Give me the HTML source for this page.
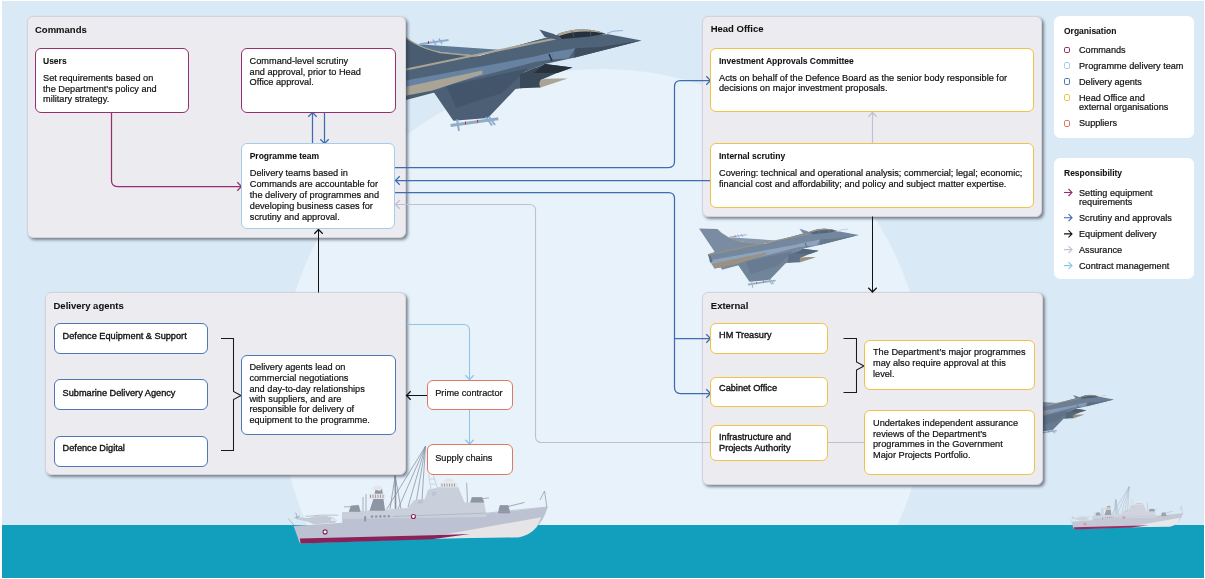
<!DOCTYPE html>
<html><head><meta charset="utf-8"><style>
html,body{margin:0;padding:0;background:#fff;}
#root{position:relative;width:1205px;height:579px;overflow:hidden;background:#fff;font-family:"Liberation Sans",sans-serif;will-change:transform;}
.b{position:absolute;box-sizing:border-box;}
.t{position:absolute;white-space:nowrap;line-height:11px;-webkit-text-stroke:0.2px currentColor;}
svg{position:absolute;left:0;top:0;}
</style></head><body><div id="root">
<svg width="1205" height="579" viewBox="0 0 1205 579">
<rect x="2" y="1" width="1202" height="577" fill="#d9e9f5"/>
<clipPath id="cl"><rect x="2" y="1" width="1202" height="577"/></clipPath>
<g clip-path="url(#cl)">
<circle cx="602.5" cy="392.5" r="323.5" fill="#e7f2fa"/>
<rect x="2" y="525" width="1202" height="53" fill="#129ebd"/>

<path d="M366.6,29.2 L397.9,30.1 Q412,46 440,52 L480,56 L534.9,40.7 L557.3,35 L557,60 L406,100 L393.7,69.7 Z" fill="#4a5c70"/>
<path d="M418.8,44.2 L498.9,49.7 L474.1,55.2 Q440,53 425.7,49 Z" fill="#5d7892"/>
<path d="M397.9,30.6 Q412,46 440,52.5 L480,56.5" stroke="#aaa497" stroke-width="1.3" fill="none"/>
<path d="M382,73.5 L393.7,69.7 L480,56 L534.9,40.7 L557.3,35 L608.4,34.3 L641.6,40.6 L573.9,57.8 L545,64 L520,74 L520,88 L432.6,91.5 L406.4,96 L393,98 L386,80 Z" fill="#4f6378"/>
<path d="M382,74.5 L534.9,42.8 L555.9,38.5" stroke="#aaa497" stroke-width="2" fill="none"/>
<path d="M384,84.5 L534.9,56.6 L551.8,52.3 L553.2,59.2 L534.9,62.1 L446.4,84.9 L388,90.5 Z" fill="#6783a1"/>
<path d="M388,90.5 L482.4,70.4 L482.4,73.9 L432.6,90.5 L393.5,98 Z" fill="#aaa497"/>
<path d="M382,74 L386.5,77 L390,86 L386,88 Z" fill="#3a4959"/>
<path d="M432.6,90.5 L520,74 L534.9,68 L545,75 L534.9,86.2 L515.5,89 L487.9,118 L453.4,120.8 Z" fill="#4c5f74"/>
<path d="M446.4,86.2 L528,68.3 L501.7,93.2 L456.1,107.7 Z" fill="#43556a"/>
<path d="M520,74.4 L545,64 L572.5,67.5 L557,73 L540.7,80 L540.7,87.5 L520,88.2 Z" fill="#3a4959"/>
<path d="M641.6,40.6 L600,47 L575.3,48.2 L573.9,57.8 Z" fill="#3f4f61"/>
<path d="M557.3,34.3 Q580.8,25 605.7,33.7 L590,36.5 L562,39 Z" fill="#27313c"/>
<path d="M557.3,34.3 Q580.8,24.5 605.7,33.7 Q580.8,28.5 559,36 Z" fill="#aaa497"/>
<path d="M572,31 L574,37 M590,30 L591,35.5" stroke="#4a5c70" stroke-width="0.8"/>
<path d="M539.3,29.5 L554.5,34.3 L561.4,40.6 L544.9,37.1 Z" fill="#4a5c70"/>
<path d="M551.8,52.3 L575.3,48.2 L568.4,58.5 L553.2,59.2 Z" fill="#6783a1"/>
<path d="M549,54 L552,61" stroke="#27313c" stroke-width="1.5"/>
<path d="M544.9,64 L572.5,67.5 L557.3,73 L533.8,73 Z" fill="#27313c"/>
<path d="M540.7,79.9 Q546,78 567.7,78.6 L540.7,87.5 Q538,84 540.7,79.9 Z" fill="#aaa497"/>
<path d="M607,33.5 L613,31.2 L623,30.5" stroke="#8dadd0" stroke-width="0.9" fill="none"/>
<path d="M450.6,125.6 L498.3,118.7" stroke="#8dadd0" stroke-width="3"/>
<path d="M451,125.5 L498,118.8" stroke="#aaa497" stroke-width="0.6"/>
<path d="M457,119.5 L459,131 M486,117 L492,125.5 M489,116.5 L495,125" stroke="#8dadd0" stroke-width="2"/>
<rect x="465" y="121.5" width="1" height="3" fill="#c2314f"/><rect x="477" y="119.8" width="1" height="3" fill="#c2314f"/>
<path d="M419.5,44.2 L448.5,40" stroke="#8dadd0" stroke-width="2"/>
<path d="M433,39.5 L436,45 M439,38.5 L442,44" stroke="#8dadd0" stroke-width="1.5"/>
<rect x="428" y="41" width="1" height="3" fill="#c2314f"/>
<g transform="translate(858.9,235.1) scale(0.5813953488372093) translate(-641.6,-40.6)">
<path d="M366.6,29.2 L397.9,30.1 Q412,46 440,52 L480,56 L534.9,40.7 L557.3,35 L557,60 L406,100 L393.7,69.7 Z" fill="#7a8ca2"/>
<path d="M418.8,44.2 L498.9,49.7 L474.1,55.2 Q440,53 425.7,49 Z" fill="#8498ae"/>
<path d="M397.9,30.6 Q412,46 440,52.5 L480,56.5" stroke="#9a9182" stroke-width="1.3" fill="none"/>
<path d="M382,73.5 L393.7,69.7 L480,56 L534.9,40.7 L557.3,35 L608.4,34.3 L641.6,40.6 L573.9,57.8 L545,64 L520,74 L520,88 L432.6,91.5 L406.4,96 L393,98 L386,80 Z" fill="#73879e"/>
<path d="M382,74.5 L534.9,42.8 L555.9,38.5" stroke="#9a9182" stroke-width="2" fill="none"/>
<path d="M384,84.5 L534.9,56.6 L551.8,52.3 L553.2,59.2 L534.9,62.1 L446.4,84.9 L388,90.5 Z" fill="#8fa4bc"/>
<path d="M388,90.5 L482.4,70.4 L482.4,73.9 L432.6,90.5 L393.5,98 Z" fill="#9a9182"/>
<path d="M382,74 L386.5,77 L390,86 L386,88 Z" fill="#5f7186"/>
<path d="M432.6,90.5 L520,74 L534.9,68 L545,75 L534.9,86.2 L515.5,89 L487.9,118 L453.4,120.8 Z" fill="#70849a"/>
<path d="M446.4,86.2 L528,68.3 L501.7,93.2 L456.1,107.7 Z" fill="#687b91"/>
<path d="M520,74.4 L545,64 L572.5,67.5 L557,73 L540.7,80 L540.7,87.5 L520,88.2 Z" fill="#5f7186"/>
<path d="M641.6,40.6 L600,47 L575.3,48.2 L573.9,57.8 Z" fill="#66798e"/>
<path d="M557.3,34.3 Q580.8,25 605.7,33.7 L590,36.5 L562,39 Z" fill="#55667a"/>
<path d="M557.3,34.3 Q580.8,24.5 605.7,33.7 Q580.8,28.5 559,36 Z" fill="#9a9182"/>
<path d="M572,31 L574,37 M590,30 L591,35.5" stroke="#7a8ca2" stroke-width="0.8"/>
<path d="M539.3,29.5 L554.5,34.3 L561.4,40.6 L544.9,37.1 Z" fill="#7a8ca2"/>
<path d="M551.8,52.3 L575.3,48.2 L568.4,58.5 L553.2,59.2 Z" fill="#8fa4bc"/>
<path d="M549,54 L552,61" stroke="#55667a" stroke-width="1.5"/>
<path d="M544.9,64 L572.5,67.5 L557.3,73 L533.8,73 Z" fill="#55667a"/>
<path d="M540.7,79.9 Q546,78 567.7,78.6 L540.7,87.5 Q538,84 540.7,79.9 Z" fill="#9a9182"/>
<path d="M607,33.5 L613,31.2 L623,30.5" stroke="#9db7d2" stroke-width="0.9" fill="none"/>
<path d="M450.6,125.6 L498.3,118.7" stroke="#9db7d2" stroke-width="3"/>
<path d="M451,125.5 L498,118.8" stroke="#9a9182" stroke-width="0.6"/>
<path d="M457,119.5 L459,131 M486,117 L492,125.5 M489,116.5 L495,125" stroke="#9db7d2" stroke-width="2"/>
<rect x="465" y="121.5" width="1" height="3" fill="#c2314f"/><rect x="477" y="119.8" width="1" height="3" fill="#c2314f"/>
<path d="M419.5,44.2 L448.5,40" stroke="#9db7d2" stroke-width="2"/>
<path d="M433,39.5 L436,45 M439,38.5 L442,44" stroke="#9db7d2" stroke-width="1.5"/>
<rect x="428" y="41" width="1" height="3" fill="#c2314f"/>
</g><g transform="translate(1114,399.4) scale(0.4) translate(-641.6,-40.6)">
<path d="M366.6,29.2 L397.9,30.1 Q412,46 440,52 L480,56 L534.9,40.7 L557.3,35 L557,60 L406,100 L393.7,69.7 Z" fill="#6f8298"/>
<path d="M418.8,44.2 L498.9,49.7 L474.1,55.2 Q440,53 425.7,49 Z" fill="#7a8ea4"/>
<path d="M397.9,30.6 Q412,46 440,52.5 L480,56.5" stroke="#948b7d" stroke-width="1.3" fill="none"/>
<path d="M382,73.5 L393.7,69.7 L480,56 L534.9,40.7 L557.3,35 L608.4,34.3 L641.6,40.6 L573.9,57.8 L545,64 L520,74 L520,88 L432.6,91.5 L406.4,96 L393,98 L386,80 Z" fill="#6a7e95"/>
<path d="M382,74.5 L534.9,42.8 L555.9,38.5" stroke="#948b7d" stroke-width="2" fill="none"/>
<path d="M384,84.5 L534.9,56.6 L551.8,52.3 L553.2,59.2 L534.9,62.1 L446.4,84.9 L388,90.5 Z" fill="#869bb3"/>
<path d="M388,90.5 L482.4,70.4 L482.4,73.9 L432.6,90.5 L393.5,98 Z" fill="#948b7d"/>
<path d="M382,74 L386.5,77 L390,86 L386,88 Z" fill="#56687c"/>
<path d="M432.6,90.5 L520,74 L534.9,68 L545,75 L534.9,86.2 L515.5,89 L487.9,118 L453.4,120.8 Z" fill="#677a90"/>
<path d="M446.4,86.2 L528,68.3 L501.7,93.2 L456.1,107.7 Z" fill="#5f7288"/>
<path d="M520,74.4 L545,64 L572.5,67.5 L557,73 L540.7,80 L540.7,87.5 L520,88.2 Z" fill="#56687c"/>
<path d="M641.6,40.6 L600,47 L575.3,48.2 L573.9,57.8 Z" fill="#5c6f84"/>
<path d="M557.3,34.3 Q580.8,25 605.7,33.7 L590,36.5 L562,39 Z" fill="#4e5f72"/>
<path d="M557.3,34.3 Q580.8,24.5 605.7,33.7 Q580.8,28.5 559,36 Z" fill="#948b7d"/>
<path d="M572,31 L574,37 M590,30 L591,35.5" stroke="#6f8298" stroke-width="0.8"/>
<path d="M539.3,29.5 L554.5,34.3 L561.4,40.6 L544.9,37.1 Z" fill="#6f8298"/>
<path d="M551.8,52.3 L575.3,48.2 L568.4,58.5 L553.2,59.2 Z" fill="#869bb3"/>
<path d="M549,54 L552,61" stroke="#4e5f72" stroke-width="1.5"/>
<path d="M544.9,64 L572.5,67.5 L557.3,73 L533.8,73 Z" fill="#4e5f72"/>
<path d="M540.7,79.9 Q546,78 567.7,78.6 L540.7,87.5 Q538,84 540.7,79.9 Z" fill="#948b7d"/>
<path d="M607,33.5 L613,31.2 L623,30.5" stroke="#99b3cf" stroke-width="0.9" fill="none"/>
<path d="M450.6,125.6 L498.3,118.7" stroke="#99b3cf" stroke-width="3"/>
<path d="M451,125.5 L498,118.8" stroke="#948b7d" stroke-width="0.6"/>
<path d="M457,119.5 L459,131 M486,117 L492,125.5 M489,116.5 L495,125" stroke="#99b3cf" stroke-width="2"/>
<rect x="465" y="121.5" width="1" height="3" fill="#c2314f"/><rect x="477" y="119.8" width="1" height="3" fill="#c2314f"/>
<path d="M419.5,44.2 L448.5,40" stroke="#99b3cf" stroke-width="2"/>
<path d="M433,39.5 L436,45 M439,38.5 L442,44" stroke="#99b3cf" stroke-width="1.5"/>
<rect x="428" y="41" width="1" height="3" fill="#c2314f"/>
</g>
<path d="M425.5,446.2 L386.7,509.2 M425.5,446.2 L398,509 M425.5,446.2 L408,507 M425.5,446.2 L416,503 M425.5,446.2 L422,500" stroke="#8792a3" stroke-width="0.75" fill="none"/>
<path d="M395.2,475.8 L390,509 M395.2,475.8 L401,509" stroke="#8792a3" stroke-width="0.8" fill="none"/>
<path d="M395.2,475.8 L395.6,509" stroke="#8792a3" stroke-width="1.6" fill="none"/>
<path d="M363,497 L363,512 M366,494 L366,512 M466.7,482.8 L467.5,502.2 M544.5,491 L547,508 M540,500 L544.5,491" stroke="#8792a3" stroke-width="0.7" fill="none"/>
<path d="M428.6,474.2 L431,489.8 M433,474.2 L438,489.8 M429.5,479 L434.5,479 M430.3,484 L436,484" stroke="#c9cfdb" stroke-width="0.9" fill="none"/>
<path d="M287.9,517.8 L293.6,526 L342.2,522.8 L342.2,512.3 L486.6,513.6 L547.6,507.3 Q544,520 536.4,527.3 Q530,535 518.9,537.2 L431.8,538.5 L299.9,543.4 L293.6,526 Z" fill="#bcc2d1"/>
<path d="M343,524 L343,512.3 L408,508 L414,500 L424.8,499 L428,489.8 L441,486.7 L458.2,486.7 L464.4,502.2 L484,502.5 L486.2,513 L486.2,517 L343,519 Z" fill="#c9cfdb"/>
<path d="M431.8,536.7 L541.3,517.3 Q538,524 536.4,527.3 Q530,535 518.9,537.2 L431.8,538.8 Z" fill="#e5e5e7"/>
<path d="M299.9,538.5 L431.8,535.2 L470,534 L431.8,539.2 L300.5,543.6 Z" fill="#8c2159"/>
<path d="M369.5,510.8 L373.4,499 L375.8,488.2 L382,488.2 L385.1,510.8 Z" fill="#8f96a3"/>
<path d="M372,489 Q377,482 383,488 L380,491 Z" fill="#e5e5e7"/>
<rect x="368.8" y="493.7" width="16.3" height="5.3" fill="#e5e5e7"/>
<path d="M370.5,494.7V498M373,494.7V498M375.5,494.7V498M378,494.7V498M380.5,494.7V498M383,494.7V498" stroke="#8f96a3" stroke-width="0.9"/>
<path d="M442.6,482 Q448.8,474.5 455,482 Z" fill="#e5e5e7"/>
<rect x="440.3" y="482.8" width="17.1" height="4.6" fill="#e5e5e7"/>
<path d="M442,483.6V486.6M444.5,483.6V486.6M447,483.6V486.6M449.5,483.6V486.6M452,483.6V486.6M454.5,483.6V486.6" stroke="#8f96a3" stroke-width="0.9"/>
<path d="M349.3,511.5 L351,506 L358.5,505.3 L360.2,511.5 Z M343.9,506.9 L352,506.5" fill="#8f96a3" stroke="#8f96a3" stroke-width="0.7"/>
<path d="M470.6,502.2 L472,497.5 L482,497.5 L483.9,502.2 Z M480,498.8 L489,498" fill="#8f96a3" stroke="#8f96a3" stroke-width="0.7"/>
<path d="M498.4,512.9 L500,505.6 L508,505.6 L509.8,512.9 Z M506,507 L524.4,502.5" fill="#8f96a3" stroke="#8f96a3" stroke-width="0.8"/>
<path d="M392.9,516.5 L486.2,513.1 L547,507" stroke="#9aa3b4" stroke-width="0.5" fill="none"/>
<path d="M432,493 L436,492.5 M432,495 L436,494.5 M418,501 L423,500.5 M418,503 L423,502.5" stroke="#9aa3b4" stroke-width="0.5"/>
<g fill="#8d99ad"><circle cx="372" cy="516.6" r="1.3"/><circle cx="376.2" cy="516.5" r="1.3"/><circle cx="380.4" cy="516.4" r="1.3"/><circle cx="384.6" cy="516.3" r="1.3"/><circle cx="388.8" cy="516.2" r="1.3"/><rect x="364" y="516" width="2.2" height="5.5" rx="1.1"/></g>
<circle cx="413.4" cy="516.5" r="2" fill="#fff" stroke="#8c2159" stroke-width="1.1"/>
<circle cx="325.1" cy="531.9" r="2" fill="#fff" stroke="#8c2159" stroke-width="1.1"/>
<path d="M296,517.3 L308,518 L315,516.2 L326,516 L333,517.5 L337,520.5 L335,522.8 L314,524.2 L307,521.5 L296,519 Z" fill="#c4cad6"/>
<path d="M305.6,516.4 Q320,514.5 338,515.2" stroke="#8792a3" stroke-width="0.5" fill="none"/>
<path d="M295.7,512.6 L297.5,518.5 M294.4,518 L300,516" stroke="#8792a3" stroke-width="0.6" fill="none"/>
<path d="M331,518 L336,519.5 L336.5,521 L331,521 Z" fill="#e5e5e7"/>
<path d="M288,518.3 L294.2,525.4" stroke="#8792a3" stroke-width="0.5"/>
<g transform="translate(1068.7,518.4) scale(0.44) translate(-288,-518.6)">
<path d="M425.5,446.2 L386.7,509.2 M425.5,446.2 L398,509 M425.5,446.2 L408,507 M425.5,446.2 L416,503 M425.5,446.2 L422,500" stroke="#9aa3b3" stroke-width="0.75" fill="none"/>
<path d="M395.2,475.8 L390,509 M395.2,475.8 L401,509" stroke="#9aa3b3" stroke-width="0.8" fill="none"/>
<path d="M395.2,475.8 L395.6,509" stroke="#9aa3b3" stroke-width="1.6" fill="none"/>
<path d="M363,497 L363,512 M366,494 L366,512 M466.7,482.8 L467.5,502.2 M544.5,491 L547,508 M540,500 L544.5,491" stroke="#9aa3b3" stroke-width="0.7" fill="none"/>
<path d="M428.6,474.2 L431,489.8 M433,474.2 L438,489.8 M429.5,479 L434.5,479 M430.3,484 L436,484" stroke="#d0d4de" stroke-width="0.9" fill="none"/>
<path d="M287.9,517.8 L293.6,526 L342.2,522.8 L342.2,512.3 L486.6,513.6 L547.6,507.3 Q544,520 536.4,527.3 Q530,535 518.9,537.2 L431.8,538.5 L299.9,543.4 L293.6,526 Z" fill="#c3c8d4"/>
<path d="M343,524 L343,512.3 L408,508 L414,500 L424.8,499 L428,489.8 L441,486.7 L458.2,486.7 L464.4,502.2 L484,502.5 L486.2,513 L486.2,517 L343,519 Z" fill="#d0d4de"/>
<path d="M431.8,536.7 L541.3,517.3 Q538,524 536.4,527.3 Q530,535 518.9,537.2 L431.8,538.8 Z" fill="#e8e8ea"/>
<path d="M299.9,538.5 L431.8,535.2 L470,534 L431.8,539.2 L300.5,543.6 Z" fill="#9a2a63"/>
<path d="M369.5,510.8 L373.4,499 L375.8,488.2 L382,488.2 L385.1,510.8 Z" fill="#9ba1ad"/>
<path d="M372,489 Q377,482 383,488 L380,491 Z" fill="#e8e8ea"/>
<rect x="368.8" y="493.7" width="16.3" height="5.3" fill="#e8e8ea"/>
<path d="M370.5,494.7V498M373,494.7V498M375.5,494.7V498M378,494.7V498M380.5,494.7V498M383,494.7V498" stroke="#9ba1ad" stroke-width="0.9"/>
<path d="M442.6,482 Q448.8,474.5 455,482 Z" fill="#e8e8ea"/>
<rect x="440.3" y="482.8" width="17.1" height="4.6" fill="#e8e8ea"/>
<path d="M442,483.6V486.6M444.5,483.6V486.6M447,483.6V486.6M449.5,483.6V486.6M452,483.6V486.6M454.5,483.6V486.6" stroke="#9ba1ad" stroke-width="0.9"/>
<path d="M349.3,511.5 L351,506 L358.5,505.3 L360.2,511.5 Z M343.9,506.9 L352,506.5" fill="#9ba1ad" stroke="#9ba1ad" stroke-width="0.7"/>
<path d="M470.6,502.2 L472,497.5 L482,497.5 L483.9,502.2 Z M480,498.8 L489,498" fill="#9ba1ad" stroke="#9ba1ad" stroke-width="0.7"/>
<path d="M498.4,512.9 L500,505.6 L508,505.6 L509.8,512.9 Z M506,507 L524.4,502.5" fill="#9ba1ad" stroke="#9ba1ad" stroke-width="0.8"/>
<path d="M392.9,516.5 L486.2,513.1 L547,507" stroke="#a8afbd" stroke-width="0.5" fill="none"/>
<path d="M432,493 L436,492.5 M432,495 L436,494.5 M418,501 L423,500.5 M418,503 L423,502.5" stroke="#a8afbd" stroke-width="0.5"/>
<g fill="#9aa3b3"><circle cx="372" cy="516.6" r="1.3"/><circle cx="376.2" cy="516.5" r="1.3"/><circle cx="380.4" cy="516.4" r="1.3"/><circle cx="384.6" cy="516.3" r="1.3"/><circle cx="388.8" cy="516.2" r="1.3"/><rect x="364" y="516" width="2.2" height="5.5" rx="1.1"/></g>
<circle cx="413.4" cy="516.5" r="2" fill="#fff" stroke="#9a2a63" stroke-width="1.1"/>
<circle cx="325.1" cy="531.9" r="2" fill="#fff" stroke="#9a2a63" stroke-width="1.1"/>
<path d="M296,517.3 L308,518 L315,516.2 L326,516 L333,517.5 L337,520.5 L335,522.8 L314,524.2 L307,521.5 L296,519 Z" fill="#cdd2dc"/>
<path d="M305.6,516.4 Q320,514.5 338,515.2" stroke="#9aa3b3" stroke-width="0.5" fill="none"/>
<path d="M295.7,512.6 L297.5,518.5 M294.4,518 L300,516" stroke="#9aa3b3" stroke-width="0.6" fill="none"/>
<path d="M331,518 L336,519.5 L336.5,521 L331,521 Z" fill="#e8e8ea"/>
<path d="M288,518.3 L294.2,525.4" stroke="#9aa3b3" stroke-width="0.5"/>
</g>
</g>
</svg>
<div class="b" style="left:27px;top:16px;width:379px;height:222px;border:1px solid #d5d1dd;border-radius:6px;background:#ecebf0;box-shadow:2px 2px 3px rgba(40,50,60,0.55);"></div>
<div class="b" style="left:702px;top:16px;width:340px;height:201px;border:1px solid #d5d1dd;border-radius:6px;background:#ecebf0;box-shadow:2px 2px 3px rgba(40,50,60,0.55);"></div>
<div class="b" style="left:45px;top:292px;width:361px;height:183px;border:1px solid #d5d1dd;border-radius:6px;background:#ecebf0;box-shadow:2px 2px 3px rgba(40,50,60,0.55);"></div>
<div class="b" style="left:702px;top:292px;width:341px;height:193px;border:1px solid #d5d1dd;border-radius:6px;background:#ecebf0;box-shadow:2px 2px 3px rgba(40,50,60,0.55);"></div>

<svg width="1205" height="579" viewBox="0 0 1205 579"><path d="M111.5 112V180.5Q111.5 186.5 117.5 186.5H241.5" stroke="#942f71" stroke-width="1.25" fill="none"/><path d="M237.3 182.3L241.5 186.5L237.3 190.7" stroke="#942f71" stroke-width="1.25" fill="none" stroke-linejoin="miter"/><path d="M312.5 143.5V112.5" stroke="#3f6bb0" stroke-width="1.25" fill="none"/><path d="M308.3 116.7L312.5 112.5L316.7 116.7" stroke="#3f6bb0" stroke-width="1.25" fill="none" stroke-linejoin="miter"/><path d="M324.5 112.5V143.5" stroke="#3f6bb0" stroke-width="1.25" fill="none"/><path d="M320.3 139.3L324.5 143.5L328.7 139.3" stroke="#3f6bb0" stroke-width="1.25" fill="none" stroke-linejoin="miter"/><path d="M395 167.5H668.5Q674.5 167.5 674.5 161.5V86.5Q674.5 80.5 680.5 80.5H710.5" stroke="#3f6bb0" stroke-width="1.25" fill="none"/><path d="M706.3 76.3L710.5 80.5L706.3 84.7" stroke="#3f6bb0" stroke-width="1.25" fill="none" stroke-linejoin="miter"/><path d="M711 180.5H395.5" stroke="#3f6bb0" stroke-width="1.25" fill="none"/><path d="M399.7 176.3L395.5 180.5L399.7 184.7" stroke="#3f6bb0" stroke-width="1.25" fill="none" stroke-linejoin="miter"/><path d="M395 192.5H668.5Q674.5 192.5 674.5 198.5V387.5Q674.5 393.5 680.5 393.5H710.5" stroke="#3f6bb0" stroke-width="1.25" fill="none"/><path d="M706.3 389.3L710.5 393.5L706.3 397.7" stroke="#3f6bb0" stroke-width="1.25" fill="none" stroke-linejoin="miter"/><path d="M674.5 338.5H710.5" stroke="#3f6bb0" stroke-width="1.25" fill="none"/><path d="M706.3 334.3L710.5 338.5L706.3 342.7" stroke="#3f6bb0" stroke-width="1.25" fill="none" stroke-linejoin="miter"/><path d="M711 442.5H541.5Q535.5 442.5 535.5 436.5V210.5Q535.5 204.5 529.5 204.5H395.5" stroke="#c2bfd3" stroke-width="1.1" fill="none"/><path d="M399.7 200.3L395.5 204.5L399.7 208.7" stroke="#c2bfd3" stroke-width="1.25" fill="none" stroke-linejoin="miter"/><path d="M827.5 442.5H864.5" stroke="#c2bfd3" stroke-width="1.1" fill="none"/><path d="M872.5 143.5V112.5" stroke="#c2bfd3" stroke-width="1.1" fill="none"/><path d="M868.3 116.7L872.5 112.5L876.7 116.7" stroke="#c2bfd3" stroke-width="1.25" fill="none" stroke-linejoin="miter"/><path d="M318.5 292.5V229.5" stroke="#111" stroke-width="1.05" fill="none"/><path d="M314.3 233.7L318.5 229.5L322.7 233.7" stroke="#111" stroke-width="1.25" fill="none" stroke-linejoin="miter"/><path d="M872.5 216.5V292" stroke="#111" stroke-width="1.05" fill="none"/><path d="M868.3 287.8L872.5 292L876.7 287.8" stroke="#111" stroke-width="1.25" fill="none" stroke-linejoin="miter"/><path d="M427 395.5H406.5" stroke="#111" stroke-width="1.05" fill="none"/><path d="M410.7 391.3L406.5 395.5L410.7 399.7" stroke="#111" stroke-width="1.25" fill="none" stroke-linejoin="miter"/><path d="M221 338.5H233.5V391.5L241 395.5L233.5 399.5V450.5H221" stroke="#1a1a1a" stroke-width="1.05" fill="none"/><path d="M843.5 338.5H856.5V362L864 366L856.5 370V392.5H843.5" stroke="#1a1a1a" stroke-width="1.05" fill="none"/><path d="M407 324.5H463.5Q469.5 324.5 469.5 330.5V379.5" stroke="#8ec4e8" stroke-width="1.05" fill="none"/><path d="M465.3 375.3L469.5 379.5L473.7 375.3" stroke="#8ec4e8" stroke-width="1.25" fill="none" stroke-linejoin="miter"/><path d="M469.5 410V444" stroke="#8ec4e8" stroke-width="1.05" fill="none"/><path d="M465.3 439.8L469.5 444L473.7 439.8" stroke="#8ec4e8" stroke-width="1.25" fill="none" stroke-linejoin="miter"/></svg>
<div class="t" style="left:35.00px;top:24px;font-size:9.5px;font-weight:700;color:#111;-webkit-text-stroke:0.05px currentColor;">Commands</div>
<div class="b" style="left:35.00px;top:48.00px;width:154.00px;height:65.00px;border:1px solid #942f71;border-radius:6px;background:#fff;"></div>
<div class="t" style="left:43.00px;top:56px;font-size:8.5px;font-weight:700;color:#111;-webkit-text-stroke:0.05px currentColor;">Users</div>
<div class="t" style="left:43.00px;top:73px;font-size:9.2px;font-weight:400;color:#111;">Set requirements based on</div>
<div class="t" style="left:43.00px;top:84px;font-size:9.2px;font-weight:400;color:#111;">the Department’s policy and</div>
<div class="t" style="left:43.00px;top:94px;font-size:9.2px;font-weight:400;color:#111;">military strategy.</div>
<div class="b" style="left:241.00px;top:48.00px;width:155.00px;height:65.00px;border:1px solid #942f71;border-radius:6px;background:#fff;"></div>
<div class="t" style="left:249.60px;top:56px;font-size:9.2px;font-weight:400;color:#111;">Command-level scrutiny</div>
<div class="t" style="left:249.60px;top:67px;font-size:9.2px;font-weight:400;color:#111;">and approval, prior to Head</div>
<div class="t" style="left:249.60px;top:77px;font-size:9.2px;font-weight:400;color:#111;">Office approval.</div>
<div class="b" style="left:241.00px;top:143.00px;width:154.00px;height:86.00px;border:1px solid #a3cdea;border-radius:6px;background:#fff;"></div>
<div class="t" style="left:249.70px;top:151px;font-size:8.5px;font-weight:700;color:#111;-webkit-text-stroke:0.05px currentColor;">Programme team</div>
<div class="t" style="left:249.80px;top:168px;font-size:9.2px;font-weight:400;color:#111;">Delivery teams based in</div>
<div class="t" style="left:249.80px;top:179px;font-size:9.2px;font-weight:400;color:#111;">Commands are accountable for</div>
<div class="t" style="left:249.80px;top:190px;font-size:9.2px;font-weight:400;color:#111;">the delivery of programmes and</div>
<div class="t" style="left:249.80px;top:201px;font-size:9.2px;font-weight:400;color:#111;">developing business cases for</div>
<div class="t" style="left:249.80px;top:212px;font-size:9.2px;font-weight:400;color:#111;">scrutiny and approval.</div>
<div class="t" style="left:710.70px;top:23px;font-size:9.5px;font-weight:700;color:#111;-webkit-text-stroke:0.05px currentColor;">Head Office</div>
<div class="b" style="left:710.00px;top:48.00px;width:324.00px;height:64.00px;border:1px solid #efc24a;border-radius:6px;background:#fff;"></div>
<div class="t" style="left:719.00px;top:56px;font-size:8.5px;font-weight:700;color:#111;-webkit-text-stroke:0.05px currentColor;">Investment Approvals Committee</div>
<div class="t" style="left:719.00px;top:73px;font-size:9.2px;font-weight:400;color:#111;">Acts on behalf of the Defence Board as the senior body responsible for</div>
<div class="t" style="left:719.00px;top:83px;font-size:9.2px;font-weight:400;color:#111;">decisions on major investment proposals.</div>
<div class="b" style="left:710.00px;top:143.00px;width:324.00px;height:65.00px;border:1px solid #efc24a;border-radius:6px;background:#fff;"></div>
<div class="t" style="left:719.00px;top:151px;font-size:8.5px;font-weight:700;color:#111;-webkit-text-stroke:0.05px currentColor;">Internal scrutiny</div>
<div class="t" style="left:719.00px;top:168px;font-size:9.2px;font-weight:400;color:#111;">Covering: technical and operational analysis; commercial; legal; economic;</div>
<div class="t" style="left:719.00px;top:179px;font-size:9.2px;font-weight:400;color:#111;">financial cost and affordability; and policy and subject matter expertise.</div>
<div class="t" style="left:53.50px;top:300px;font-size:9.5px;font-weight:700;color:#111;-webkit-text-stroke:0.05px currentColor;">Delivery agents</div>
<div class="b" style="left:54.00px;top:323.00px;width:154.00px;height:31.00px;border:1px solid #4f77b5;border-radius:6px;background:#fff;"></div>
<div class="t" style="left:62.60px;top:331px;font-size:9.2px;font-weight:400;color:#111;-webkit-text-stroke:0.35px #111;">Defence Equipment &amp; Support</div>
<div class="b" style="left:54.00px;top:379.00px;width:154.00px;height:31.00px;border:1px solid #4f77b5;border-radius:6px;background:#fff;"></div>
<div class="t" style="left:62.60px;top:388px;font-size:9.2px;font-weight:400;color:#111;-webkit-text-stroke:0.35px #111;">Submarine Delivery Agency</div>
<div class="b" style="left:54.00px;top:436.00px;width:154.00px;height:31.00px;border:1px solid #4f77b5;border-radius:6px;background:#fff;"></div>
<div class="t" style="left:62.60px;top:443px;font-size:9.2px;font-weight:400;color:#111;-webkit-text-stroke:0.35px #111;">Defence Digital</div>
<div class="b" style="left:241.00px;top:355.00px;width:155.00px;height:80.00px;border:1px solid #4f77b5;border-radius:6px;background:#fff;"></div>
<div class="t" style="left:249.40px;top:362px;font-size:9.2px;font-weight:400;color:#111;">Delivery agents lead on</div>
<div class="t" style="left:249.40px;top:373px;font-size:9.2px;font-weight:400;color:#111;">commercial negotiations</div>
<div class="t" style="left:249.40px;top:384px;font-size:9.2px;font-weight:400;color:#111;">and day-to-day relationships</div>
<div class="t" style="left:249.40px;top:394px;font-size:9.2px;font-weight:400;color:#111;">with suppliers, and are</div>
<div class="t" style="left:249.40px;top:404px;font-size:9.2px;font-weight:400;color:#111;">responsible for delivery of</div>
<div class="t" style="left:249.40px;top:415px;font-size:9.2px;font-weight:400;color:#111;">equipment to the programme.</div>
<div class="b" style="left:427.00px;top:380.00px;width:86.00px;height:30.00px;border:1px solid #da7a60;border-radius:6px;background:#fff;"></div>
<div class="t" style="left:435.20px;top:388px;font-size:9.2px;font-weight:400;color:#111;">Prime contractor</div>
<div class="b" style="left:427.00px;top:444.00px;width:86.00px;height:31.00px;border:1px solid #da7a60;border-radius:6px;background:#fff;"></div>
<div class="t" style="left:435.20px;top:453px;font-size:9.2px;font-weight:400;color:#111;">Supply chains</div>
<div class="t" style="left:710.80px;top:300px;font-size:9.5px;font-weight:700;color:#111;-webkit-text-stroke:0.05px currentColor;">External</div>
<div class="b" style="left:710.00px;top:323.00px;width:118.00px;height:31.00px;border:1px solid #efc24a;border-radius:6px;background:#fff;"></div>
<div class="t" style="left:719.00px;top:330px;font-size:9.2px;font-weight:400;color:#111;-webkit-text-stroke:0.35px #111;">HM Treasury</div>
<div class="b" style="left:710.00px;top:377.00px;width:118.00px;height:30.00px;border:1px solid #efc24a;border-radius:6px;background:#fff;"></div>
<div class="t" style="left:719.00px;top:383px;font-size:9.2px;font-weight:400;color:#111;-webkit-text-stroke:0.35px #111;">Cabinet Office</div>
<div class="b" style="left:710.00px;top:425.00px;width:118.00px;height:36.00px;border:1px solid #efc24a;border-radius:6px;background:#fff;"></div>
<div class="t" style="left:719.00px;top:432px;font-size:9.2px;font-weight:400;color:#111;-webkit-text-stroke:0.35px #111;">Infrastructure and</div>
<div class="t" style="left:719.00px;top:443px;font-size:9.2px;font-weight:400;color:#111;-webkit-text-stroke:0.35px #111;">Projects Authority</div>
<div class="b" style="left:864.00px;top:340.00px;width:171.00px;height:50.00px;border:1px solid #efc24a;border-radius:6px;background:#fff;"></div>
<div class="t" style="left:873.00px;top:347px;font-size:9.2px;font-weight:400;color:#111;">The Department’s major programmes</div>
<div class="t" style="left:873.00px;top:358px;font-size:9.2px;font-weight:400;color:#111;">may also require approval at this</div>
<div class="t" style="left:873.00px;top:369px;font-size:9.2px;font-weight:400;color:#111;">level.</div>
<div class="b" style="left:864.00px;top:410.00px;width:171.00px;height:65.00px;border:1px solid #efc24a;border-radius:6px;background:#fff;"></div>
<div class="t" style="left:873.00px;top:418px;font-size:9.2px;font-weight:400;color:#111;">Undertakes independent assurance</div>
<div class="t" style="left:873.00px;top:429px;font-size:9.2px;font-weight:400;color:#111;">reviews of the Department’s</div>
<div class="t" style="left:873.00px;top:439px;font-size:9.2px;font-weight:400;color:#111;">programmes in the Government</div>
<div class="t" style="left:873.00px;top:450px;font-size:9.2px;font-weight:400;color:#111;">Major Projects Portfolio.</div>
<div class="b" style="left:1054.00px;top:16.00px;width:140.00px;height:122.00px;border:1px solid #ffffff;border-radius:6px;background:#fff;"></div>
<div class="t" style="left:1064.00px;top:26px;font-size:8.5px;font-weight:700;color:#111;-webkit-text-stroke:0.05px currentColor;">Organisation</div>
<div class="b" style="left:1063.6px;top:46.7px;width:6.6px;height:6.6px;border:1.5px solid #942f71;border-radius:1.8px"></div>
<div class="t" style="left:1079.00px;top:45px;font-size:9.15px;font-weight:400;color:#111;">Commands</div>
<div class="b" style="left:1063.6px;top:62.4px;width:6.6px;height:6.6px;border:1.5px solid #a3cdea;border-radius:1.8px"></div>
<div class="t" style="left:1079.00px;top:61px;font-size:9.15px;font-weight:400;color:#111;">Programme delivery team</div>
<div class="b" style="left:1063.6px;top:78.3px;width:6.6px;height:6.6px;border:1.5px solid #4f77b5;border-radius:1.8px"></div>
<div class="t" style="left:1079.00px;top:77px;font-size:9.15px;font-weight:400;color:#111;">Delivery agents</div>
<div class="b" style="left:1063.6px;top:94.4px;width:6.6px;height:6.6px;border:1.5px solid #efc24a;border-radius:1.8px"></div>
<div class="t" style="left:1079.00px;top:93px;font-size:9.15px;font-weight:400;color:#111;">Head Office and</div>
<div class="t" style="left:1079.00px;top:102px;font-size:9.15px;font-weight:400;color:#111;">external organisations</div>
<div class="b" style="left:1063.6px;top:120.2px;width:6.6px;height:6.6px;border:1.5px solid #da7a60;border-radius:1.8px"></div>
<div class="t" style="left:1079.00px;top:118px;font-size:9.15px;font-weight:400;color:#111;">Suppliers</div>
<div class="b" style="left:1054.00px;top:158.00px;width:140.00px;height:121.00px;border:1px solid #ffffff;border-radius:6px;background:#fff;"></div>
<div class="t" style="left:1064.00px;top:168px;font-size:8.5px;font-weight:700;color:#111;-webkit-text-stroke:0.05px currentColor;">Responsibility</div>
<div class="t" style="left:1079.00px;top:188px;font-size:9.15px;font-weight:400;color:#111;">Setting equipment</div>
<div class="t" style="left:1079.00px;top:197px;font-size:9.15px;font-weight:400;color:#111;">requirements</div>
<div class="t" style="left:1079.00px;top:213px;font-size:9.15px;font-weight:400;color:#111;">Scrutiny and approvals</div>
<div class="t" style="left:1079.00px;top:229px;font-size:9.15px;font-weight:400;color:#111;">Equipment delivery</div>
<div class="t" style="left:1079.00px;top:245px;font-size:9.15px;font-weight:400;color:#111;">Assurance</div>
<div class="t" style="left:1079.00px;top:261px;font-size:9.15px;font-weight:400;color:#111;">Contract management</div>

<svg width="1205" height="579" viewBox="0 0 1205 579"><path d="M1064 192.5H1072M1068.5 189.0L1072 192.5L1068.5 196.0" stroke="#942f71" stroke-width="1.1" fill="none"/><path d="M1064 217.7H1072M1068.5 214.2L1072 217.7L1068.5 221.2" stroke="#3f6bb0" stroke-width="1.1" fill="none"/><path d="M1064 233.9H1072M1068.5 230.4L1072 233.9L1068.5 237.4" stroke="#111" stroke-width="1.1" fill="none"/><path d="M1064 249.6H1072M1068.5 246.1L1072 249.6L1068.5 253.1" stroke="#c2bfd3" stroke-width="1.1" fill="none"/><path d="M1064 265.6H1072M1068.5 262.1L1072 265.6L1068.5 269.1" stroke="#8ec4e8" stroke-width="1.1" fill="none"/></svg>
</div></body></html>
